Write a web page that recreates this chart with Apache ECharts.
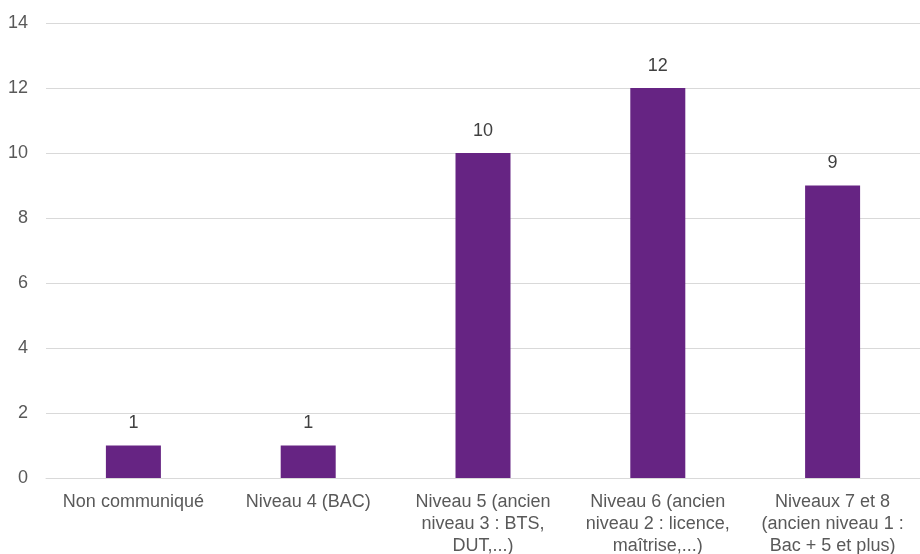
<!DOCTYPE html>
<html>
<head>
<meta charset="utf-8">
<script src="https://cdn.jsdelivr.net/npm/echarts@6/dist/echarts.min.js"></script>
<style>html,body{margin:0;padding:0;background:#fff;}#c{width:920px;height:554px;}</style>
</head>
<body>
<div id="c"></div>
<script>
const categories = [
  "Non communiqué",
  "Niveau 4 (BAC)",
  "Niveau 5 (ancien\nniveau 3 : BTS,\nDUT,...)",
  "Niveau 6 (ancien\nniveau 2 : licence,\nmaîtrise,...)",
  "Niveaux 7 et 8\n(ancien niveau 1 :\nBac + 5 et plus)"
];
const values = [1, 1, 10, 12, 9];
const yTicks = { min: 0, max: 14, interval: 2 };

const chart = echarts.init(document.getElementById('c'));
chart.setOption({
  animation: false,
  textStyle: { fontFamily: 'Liberation Sans, Arial, sans-serif' },
  grid: { left: 46, right: 0, top: 23, bottom: 76, containLabel: false, outerBoundsMode: 'none' },
  xAxis: {
    type: 'category',
    data: categories,
    axisLine: { show: true, lineStyle: { color: '#d9d9d9', width: 1 } },
    axisTick: { show: false },
    axisLabel: { color: '#595959', fontSize: 18, lineHeight: 22, margin: 13, interval: 0 }
  },
  yAxis: {
    type: 'value',
    min: yTicks.min, max: yTicks.max, interval: yTicks.interval,
    axisLine: { show: false },
    axisTick: { show: false },
    splitLine: { lineStyle: { color: '#d9d9d9', width: 1 } },
    axisLabel: { color: '#595959', fontSize: 18, margin: 18 }
  },
  series: [{
    type: 'bar',
    data: values,
    barWidth: 55,
    itemStyle: { color: '#662483' },
    label: { show: true, position: 'top', distance: 13, color: '#404040', fontSize: 18 }
  }]
});
</script>
</body>
</html>
